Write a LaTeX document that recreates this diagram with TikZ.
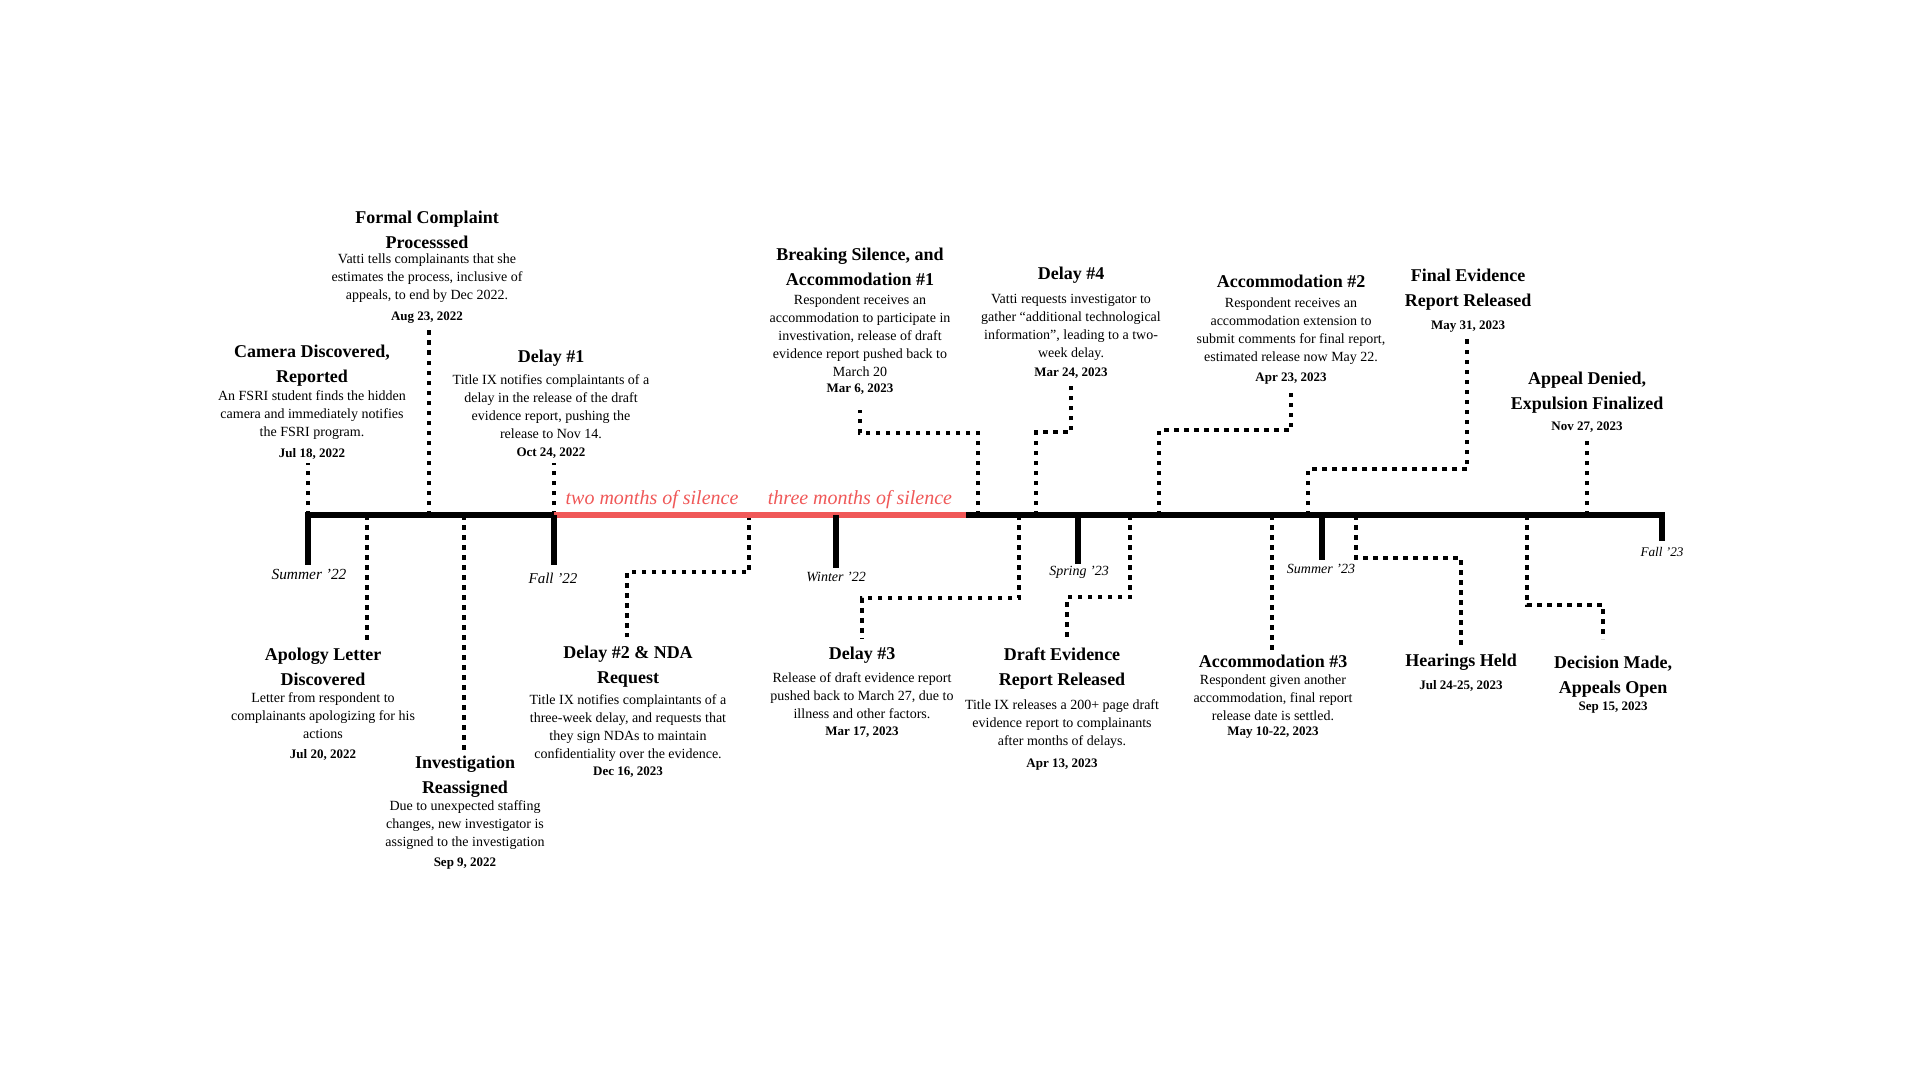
\documentclass[tikz,border=0pt]{standalone}
\usepackage{fontspec}
\setmainfont{Liberation Serif}
\definecolor{silred}{RGB}{240,88,88}
\begin{document}
\begin{tikzpicture}[x=0.5pt,y=-0.5pt,
  ttl/.style={font=\fontsize{9}{12.5}\selectfont\bfseries, align=center, inner sep=0pt},
  bdy/.style={font=\fontsize{7}{9}\selectfont, align=center, inner sep=0pt},
  dt/.style={font=\fontsize{6.5}{8}\selectfont\bfseries, inner sep=0pt},
  season/.style={font=\fontsize{7}{8}\selectfont\itshape, inner sep=0pt},
  silence/.style={font=\fontsize{10}{12}\selectfont\itshape, text=silred, inner sep=0pt},
  conn/.style={line width=2.25pt, dash pattern=on 2.25pt off 2.75pt},
  axisline/.style={line width=3pt},
  seasontick/.style={line width=3pt},
]
\fill[white] (0,0) rectangle (1920,1080);
\useasboundingbox (0,0) rectangle (1920,1080);

% axis anchor coordinates
\coordinate (axL) at (305,515);
\coordinate (axR) at (1665,515);
\coordinate (redL) at (554,515);
\coordinate (redR) at (966,515);

% ---------- connectors (top) ----------
\coordinate (A0) at (308,515);  \coordinate (A1) at (308,463);
\coordinate (B0) at (429,515);  \coordinate (B1) at (429,326);
\coordinate (C0) at (554,515);  \coordinate (C1) at (554,463);
\coordinate (D0) at (978,515);  \coordinate (Dk) at (860,433); \coordinate (D1) at (860,410);
\coordinate (E0) at (1036,515); \coordinate (Ek) at (1071,432); \coordinate (E1) at (1071,384);
\coordinate (F0) at (1159,515); \coordinate (Fk) at (1291,430); \coordinate (F1) at (1291,393);
\coordinate (G0) at (1308,515); \coordinate (Gk) at (1467,469); \coordinate (G1) at (1467,337);
\coordinate (H0) at (1587,515); \coordinate (H1) at (1587,436);
% ---------- connectors (bottom) ----------
\coordinate (I0) at (367,515);  \coordinate (I1) at (367,640);
\coordinate (J0) at (464,515);  \coordinate (J1) at (464,752);
\coordinate (K0) at (749,515);  \coordinate (Kk) at (627,572); \coordinate (K1) at (627,637);
\coordinate (L0) at (1019,515); \coordinate (Lk) at (862,598); \coordinate (L1) at (862,639);
\coordinate (M0) at (1130,515); \coordinate (Mk) at (1067,597); \coordinate (M1) at (1067,638);
\coordinate (N0) at (1272,515); \coordinate (N1) at (1272,650);
\coordinate (O0) at (1356,515); \coordinate (Ok) at (1461,558); \coordinate (O1) at (1461,645);
\coordinate (P0) at (1527,515); \coordinate (Pk) at (1603,605); \coordinate (P1) at (1603,639);

\draw[conn] (A0) -- (A1);
\draw[conn] (B0) -- (B1);
\draw[conn] (C0) -- (C1);
\draw[conn] (D0) |- (Dk) -- (D1);
\draw[conn] (E0) |- (Ek) -- (E1);
\draw[conn] (F0) |- (Fk) -- (F1);
\draw[conn] (G0) |- (Gk) -- (G1);
\draw[conn] (H0) -- (H1);
\draw[conn] (I0) -- (I1);
\draw[conn] (J0) -- (J1);
\draw[conn] (K0) |- (Kk) -- (K1);
\draw[conn] (L0) |- (Lk) -- (L1);
\draw[conn] (M0) |- (Mk) -- (M1);
\draw[conn] (N0) -- (N1);
\draw[conn] (O0) |- (Ok) -- (O1);
\draw[conn] (P0) |- (Pk) -- (P1);

% ---------- axis and season ticks ----------
\coordinate (t1) at (308,515);  \coordinate (t1e) at (308,565);
\coordinate (t2) at (554,515);  \coordinate (t2e) at (554,565);
\coordinate (t3) at (836,515);  \coordinate (t3e) at (836,568);
\coordinate (t4) at (1078,515); \coordinate (t4e) at (1078,564);
\coordinate (t5) at (1322,515); \coordinate (t5e) at (1322,560);
\coordinate (t6) at (1662,515); \coordinate (t6e) at (1662,541);
\draw[axisline] (axL) -- (axR);
\draw[axisline, silred] (redL) -- (redR);
\foreach \t in {t1,t2,t3,t4,t5,t6} \draw[seasontick] (\t) -- (\t e);

\begin{scope}[shift={(0,2.5)}]
\node[season, font=\fontsize{7.7}{8}\selectfont\itshape] (s1) at (309,572) {Summer ’22};
\node[season, font=\fontsize{7.5}{8}\selectfont\itshape] (s2) at (553,576) {Fall ’22};
\node[season] (s3) at (836,574) {Winter ’22};
\node[season] (s4) at (1079,570) {Spring ’23};
\node[season] (s5) at (1321,566) {Summer ’23};
\node[season, font=\fontsize{6.6}{8}\selectfont\itshape] (s6) at (1662,549) {Fall ’23};

\node[silence] (r1) at (652,497) {two months of silence};
\node[silence] (r2) at (860,497) {three months of silence};

% ---------- top events ----------
\node[ttl] (At) at (312,363) {Camera Discovered,\\Reported};
\node[bdy] (Ab) at (312,413) {An FSRI student finds the hidden\\camera and immediately notifies\\the FSRI program.};
\node[dt]  (Ad) at (312,451) {Jul 18, 2022};

\node[ttl] (Bt) at (427,227) {Formal Complaint\\Processsed};
\node[bdy] (Bb) at (427,276) {Vatti tells complainants that she\\estimates the process, inclusive of\\appeals, to end by Dec 2022.};
\node[dt]  (Bd) at (427,315) {Aug 23, 2022};

\node[ttl] (Ct) at (551,356) {Delay \#1};
\node[bdy] (Cb) at (551,404.5) {Title IX notifies complaintants of a\\delay in the release of the draft\\evidence report, pushing the\\release to Nov 14.};
\node[dt]  (Cd) at (551,451) {Oct 24, 2022};

\node[ttl] (Dt) at (860,264.5) {Breaking Silence, and\\Accommodation \#1};
\node[bdy] (Db) at (860,333.5) {Respondent receives an\\accommodation to participate in\\investivation, release of draft\\evidence report pushed back to\\March 20};
\node[dt]  (Dd) at (860,387) {Mar 6, 2023};

\node[ttl] (Et) at (1071,273) {Delay \#4};
\node[bdy] (Eb) at (1071,325) {Vatti requests investigator to\\gather “additional technological\\information”, leading to a two-\\week delay.};
\node[dt]  (Ed) at (1071,371) {Mar 24, 2023};

\node[ttl] (Ft) at (1291,279) {Accommodation \#2};
\node[bdy] (Fb) at (1291,328.5) {Respondent receives an\\accommodation extension to\\submit comments for final report,\\estimated release now May 22.};
\node[dt]  (Fd) at (1291,376) {Apr 23, 2023};

\node[ttl] (Gt) at (1468,287) {Final Evidence\\Report Released};
\node[dt]  (Gd) at (1468,324) {May 31, 2023};

\node[ttl] (Ht) at (1587,390.5) {Appeal Denied,\\Expulsion Finalized};
\node[dt]  (Hd) at (1587,425) {Nov 27, 2023};

% ---------- bottom events ----------
\node[ttl] (It) at (323,664.5) {Apology Letter\\Discovered};
\node[bdy] (Ib) at (323,713.5) {Letter from respondent to\\complainants apologizing for his\\actions};
\node[dt]  (Id) at (323,752) {Jul 20, 2022};

\node[ttl] (Jt) at (465,774) {Investigation\\Reassigned};
\node[bdy] (Jb) at (465,823) {Due to unexpected staffing\\changes, new investigator is\\assigned to the investigation};
\node[dt]  (Jd) at (465,861) {Sep 9, 2022};

\node[ttl] (Kt) at (628,664.5) {Delay \#2 \& NDA\\Request};
\node[bdy] (Kb) at (628,726) {Title IX notifies complaintants of a\\three-week delay, and requests that\\they sign NDAs to maintain\\confidentiality over the evidence.};
\node[dt]  (Kd) at (628,770) {Dec 16, 2023};

\node[ttl] (Lt) at (862,653) {Delay \#3};
\node[bdy] (Lb) at (862,693.5) {Release of draft evidence report\\pushed back to March 27, due to\\illness and other factors.};
\node[dt]  (Ld) at (862,730) {Mar 17, 2023};

\node[ttl] (Mt) at (1062,666) {Draft Evidence\\Report Released};
\node[bdy] (Mb) at (1062,722) {Title IX releases a 200+ page draft\\evidence report to complainants\\after months of delays.};
\node[dt]  (Md) at (1062,762) {Apr 13, 2023};

\node[ttl] (Nt) at (1273,659) {Accommodation \#3};
\node[bdy] (Nb) at (1273,695.5) {Respondent given another\\accommodation, final report\\release date is settled.};
\node[dt]  (Nd) at (1273,730) {May 10-22, 2023};

\node[ttl] (Ot) at (1461,660) {Hearings Held};
\node[dt]  (Od) at (1461,683) {Jul 24-25, 2023};

\node[ttl] (Pt) at (1613,674) {Decision Made,\\Appeals Open};
\node[dt]  (Pd) at (1613,705) {Sep 15, 2023};
\end{scope}
\end{tikzpicture}
\end{document}
